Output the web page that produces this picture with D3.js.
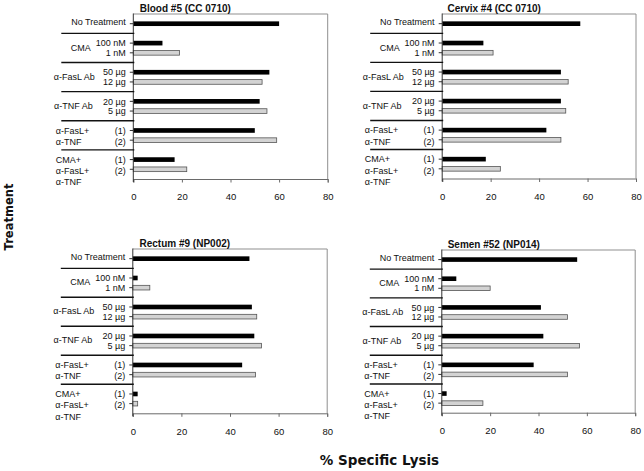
<!DOCTYPE html>
<html><head><meta charset="utf-8">
<script src="https://cdn.jsdelivr.net/npm/d3@7"></script>
<style>
body{margin:0;background:#fff}
svg{display:block}
text{font-family:"Liberation Sans",Arial,sans-serif;fill:#111}
</style>
</head><body>
<script>
// ---------- data ----------
const groups = ["No Treatment", "CMA", "α-FasL Ab", "α-TNF Ab", "α-FasL+|α-TNF", "CMA+|α-FasL+|α-TNF"];
const subLabels = [[""], ["100 nM", "1 nM"], ["50 µg", "12 µg"], ["20 µg", "5 µg"], ["(1)", "(2)"], ["(1)", "(2)"]];
const panelTitles = ["Blood #5 (CC 0710)", "Cervix #4 (CC 0710)", "Rectum #9 (NP002)", "Semen #52 (NP014)"];
// values per group: [first (black), second (grey)]
const blood  = [[60], [12, 19], [56, 53], [52, 55], [50, 59], [17, 22]];
const cervix = [[57], [17, 21], [49, 52], [49, 51], [43, 49], [18, 24]];
const rectum = [[48], [2, 7],   [49, 51], [50, 53], [45, 50.5], [2, 2]];
const semen  = [[56], [6, 20],  [41, 52], [42, 57], [38, 52], [2, 17]];
const xTicks = [0, 20, 40, 60, 80];
const xLabel = "% Specific Lysis";
const yLabel = "Treatment";

// ---------- layout ----------
const W = 644, H = 471;
const panels = [
  {title: panelTitles[0], data: blood,  x0: 133.3, x1: 327.7, y0: 14,  y1: 179},
  {title: panelTitles[1], data: cervix, x0: 442.2, x1: 636,   y0: 14,  y1: 178.5},
  {title: panelTitles[2], data: rectum, x0: 132.8, x1: 327.2, y0: 249, y1: 413.3},
  {title: panelTitles[3], data: semen,  x0: 441.8, x1: 635.2, y0: 250, y1: 412.7}
];
const groupLabelPos = [
  {anchor: "end", dx: -7.6},
  {anchor: "middle", dx: -52.5},
  {anchor: "middle", dx: -59},
  {anchor: "middle", dx: -60},
  {anchor: "start", dx: -77.5},
  {anchor: "start", dx: -77.5}
];
// slot structure: first group has 2 slots, others 3
const groupStart = groups.map((g, i) => i === 0 ? 0 : 2 + 3 * (i - 1));
const totalSlots = 2 + 3 * (groups.length - 1);

const svg = d3.select("body").append("svg").attr("width", W).attr("height", H);

panels.forEach(p => {
  const x = d3.scaleLinear().domain([0, 80]).range([p.x0, p.x1]);
  const y = d3.scaleLinear().domain([0, totalSlots]).range([p.y0, p.y1]);
  const slot = y(1) - y(0);
  const barH = slot * 0.48;
  const g = svg.append("g");

  // frame (top/right grey)
  g.append("path")
    .attr("d", `M${p.x0},${p.y0}H${p.x1}V${p.y1}`)
    .attr("fill", "none").attr("stroke", "#8f8f8f").attr("stroke-width", 1);

  // bars
  const rows = [];
  p.data.forEach((vals, gi) => vals.forEach((v, si) => {
    rows.push({gi, si, v, s: groupStart[gi] + 1 + si});
  }));
  g.selectAll("rect.bar").data(rows).enter().append("rect")
    .attr("x", x(0))
    .attr("y", d => y(d.s) - barH / 2)
    .attr("width", d => x(d.v) - x(0))
    .attr("height", barH)
    .attr("fill", d => d.si === 0 ? "#000" : "#d3d3d3")
    .attr("stroke", d => d.si === 0 ? "#000" : "#555")
    .attr("stroke-width", d => d.si === 0 ? 0 : 0.8);

  // x axis
  const xAxis = d3.axisBottom(x).tickValues(xTicks).tickSize(3.5).tickPadding(11);
  const xa = g.append("g").attr("transform", `translate(0,${p.y1})`).call(xAxis);
  xa.select(".domain").attr("stroke", "#6a6a6a");
  xa.selectAll(".tick line").attr("stroke", "#6a6a6a");
  xa.selectAll(".tick text").attr("font-size", 9.5).attr("font-family", '"Liberation Sans",Arial,sans-serif').attr("fill", "#222");

  // left axis line
  g.append("line").attr("x1", p.x0).attr("x2", p.x0).attr("y1", p.y0 - 0.5).attr("y2", p.y1 + 3)
    .attr("stroke", "#333").attr("stroke-width", 1);
  // row ticks
  g.selectAll("line.rt").data(rows).enter().append("line")
    .attr("x1", p.x0 - 3.5).attr("x2", p.x0)
    .attr("y1", d => y(d.s)).attr("y2", d => y(d.s))
    .attr("stroke", "#333").attr("stroke-width", 1);

  // group separators
  g.selectAll("line.sep").data(groupStart.slice(1)).enter().append("line")
    .attr("x1", p.x0 - 72).attr("x2", p.x0 + 1)
    .attr("y1", d => y(d)).attr("y2", d => y(d))
    .attr("stroke", "#111").attr("stroke-width", 1.4);

  // labels
  groups.forEach((name, gi) => {
    const lines = name.split("|");
    const pos = groupLabelPos[gi];
    const s0 = groupStart[gi] + 1;
    const nSub = subLabels[gi].length;
    const multi = lines.length > 1;
    if (gi === 0) {
      g.append("text").attr("x", p.x0 + pos.dx).attr("y", y(s0) - 1.5).attr("dy", "0.35em")
        .attr("text-anchor", pos.anchor).attr("font-size", 9).text(name);
      return;
    }
    if (multi) {
      lines.forEach((ln, li) => {
        g.append("text").attr("x", p.x0 + pos.dx).attr("y", y(s0) + li * 11.3).attr("dy", "0.35em")
          .attr("text-anchor", pos.anchor).attr("font-size", 9).text(ln);
      });
      subLabels[gi].forEach((sl, si) => {
        g.append("text").attr("x", p.x0 - 7.6).attr("y", y(s0) + si * 11.3).attr("dy", "0.35em")
          .attr("text-anchor", "end").attr("font-size", 9).text(sl);
      });
    } else {
      g.append("text").attr("x", p.x0 + pos.dx).attr("y", (y(s0) + y(s0 + nSub - 1)) / 2 - 0.5).attr("dy", "0.35em")
        .attr("text-anchor", pos.anchor).attr("font-size", 9).text(name);
      subLabels[gi].forEach((sl, si) => {
        g.append("text").attr("x", p.x0 - 7.6).attr("y", y(s0 + si)).attr("dy", "0.35em")
          .attr("text-anchor", "end").attr("font-size", 9).text(sl);
      });
    }
  });

  // title
  g.append("text").attr("x", p.x0 + 52).attr("y", p.y0 - 6).attr("dy", "0.35em")
    .attr("text-anchor", "middle").attr("font-size", 10).attr("font-weight", "bold").text(p.title);
});

// axis titles
svg.append("text").attr("transform", "translate(9,217) rotate(-90)").attr("dy", "0.35em")
  .attr("text-anchor", "middle").attr("font-size", 11.5).attr("font-weight", "bold")
  .style("font-family", '"DejaVu Sans",sans-serif').text(yLabel);
svg.append("text").attr("x", 379.5).attr("y", 460).attr("dy", "0.35em")
  .attr("text-anchor", "middle").attr("font-size", 13.5).attr("font-weight", "bold")
  .style("font-family", '"DejaVu Sans",sans-serif').text(xLabel);
</script>
</body></html>
